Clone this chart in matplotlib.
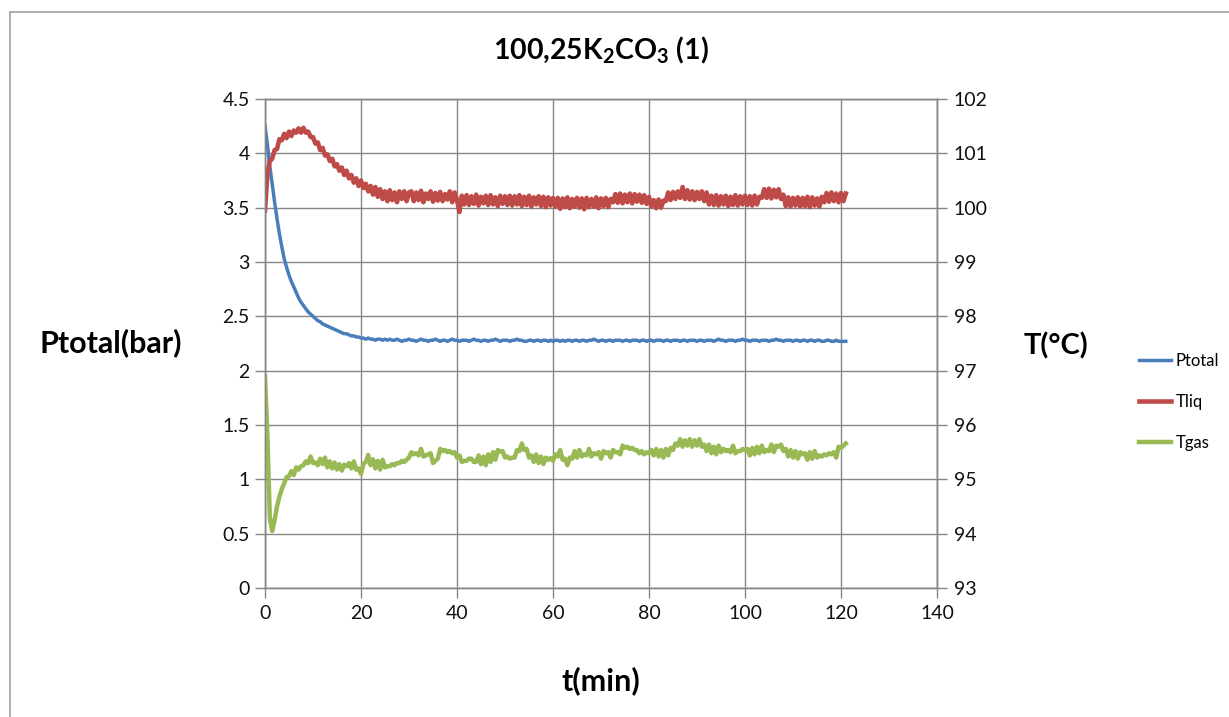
import numpy as np
import matplotlib
matplotlib.use("Agg")
import matplotlib.pyplot as plt
from matplotlib.patches import Rectangle

plt.rcParams["font.family"] = ["Lato", "DejaVu Sans"]
plt.rcParams["mathtext.fontset"] = "custom"
plt.rcParams["mathtext.rm"] = "Lato:bold"
plt.rcParams["mathtext.bf"] = "Lato:bold"
plt.rcParams["mathtext.it"] = "Lato:bold"

# sampling times (min), every 0.5 min from 0 to 121
t_min = np.arange(0, 121.01, 0.5)

# total pressure (bar)
p_total = [
    4.25, 4.08, 3.88, 3.72, 3.55, 3.40, 3.26, 3.14, 3.03, 2.95,
    2.88, 2.82, 2.77, 2.72, 2.67, 2.63, 2.60, 2.57, 2.54, 2.52,
    2.50, 2.48, 2.46, 2.45, 2.43, 2.42, 2.41, 2.40, 2.39, 2.38,
    2.37, 2.36, 2.35, 2.34, 2.34, 2.33, 2.32, 2.32, 2.31, 2.31,
    2.30,
    2.30, 2.29, 2.30, 2.29, 2.29, 2.28, 2.29, 2.29, 2.28, 2.29,
    2.28, 2.29, 2.28, 2.28, 2.29, 2.28, 2.27, 2.28, 2.28, 2.29,
    2.28, 2.28, 2.27, 2.28, 2.29, 2.28, 2.28, 2.27, 2.28, 2.28,
    2.29, 2.28, 2.27, 2.28, 2.28, 2.27, 2.28, 2.29, 2.28, 2.28,
    2.27, 2.28, 2.28, 2.28, 2.27, 2.28, 2.29, 2.28, 2.28, 2.27,
    2.28, 2.28, 2.27, 2.28, 2.28, 2.29, 2.28, 2.27, 2.28, 2.28,
    2.28, 2.27, 2.28, 2.28, 2.29, 2.28, 2.28, 2.27, 2.27, 2.28,
    2.28, 2.27, 2.28, 2.28, 2.27, 2.28, 2.28, 2.27, 2.28, 2.27,
    2.28, 2.28, 2.27, 2.28, 2.27, 2.28, 2.28, 2.27, 2.28, 2.28,
    2.27, 2.28, 2.28, 2.27, 2.28, 2.28, 2.29, 2.28, 2.27, 2.28,
    2.28, 2.27, 2.28, 2.28, 2.27, 2.28, 2.28, 2.28, 2.27, 2.28,
    2.28, 2.27, 2.28, 2.28, 2.28, 2.27, 2.28, 2.28, 2.27, 2.28,
    2.28, 2.27, 2.28, 2.28, 2.28, 2.27, 2.28, 2.28, 2.27, 2.28,
    2.28, 2.28, 2.27, 2.28, 2.28, 2.27, 2.28, 2.28, 2.28, 2.27,
    2.28, 2.28, 2.27, 2.28, 2.28, 2.28, 2.27, 2.28, 2.29, 2.28,
    2.28, 2.27, 2.28, 2.28, 2.28, 2.27, 2.28, 2.28, 2.29, 2.28,
    2.28, 2.27, 2.28, 2.28, 2.28, 2.27, 2.28, 2.28, 2.28, 2.27,
    2.28, 2.28, 2.29, 2.28, 2.28, 2.27, 2.28, 2.28, 2.28, 2.27,
    2.28, 2.28, 2.27, 2.28, 2.28, 2.27, 2.28, 2.28, 2.27, 2.28,
    2.28, 2.27, 2.27, 2.28, 2.28, 2.27, 2.27, 2.28, 2.27, 2.27,
    2.27, 2.27,
]

# liquid temperature (deg C)
t_liq = [
    99.95, 100.62, 100.86, 100.90, 101.06, 101.08, 101.26, 101.24, 101.36, 101.28,
    101.40, 101.32, 101.42, 101.38, 101.46, 101.38, 101.47, 101.38, 101.40, 101.30,
    101.30, 101.18, 101.20, 101.06, 101.10, 100.96, 100.98, 100.86, 100.90, 100.76,
    100.80, 100.68, 100.74, 100.60, 100.68, 100.54, 100.60, 100.46, 100.54, 100.40,
    100.50, 100.36, 100.44, 100.30, 100.40, 100.24, 100.38, 100.20, 100.34, 100.16,
    100.30, 100.12, 100.32, 100.14, 100.28, 100.10, 100.30, 100.16, 100.30, 100.12,
    100.28,
    100.30, 100.12, 100.28, 100.14, 100.31, 100.10, 100.26, 100.16, 100.30, 100.11,
    100.27, 100.13, 100.29, 100.12, 100.25, 100.15, 100.30, 100.10, 100.28, 100.14,
    99.92, 100.22, 100.06, 100.23, 100.05, 100.21, 100.07, 100.24, 100.04, 100.20,
    100.08, 100.22, 100.05, 100.23, 100.06, 100.19, 100.03, 100.22, 100.07, 100.21,
    100.05, 100.22, 100.04, 100.21, 100.06, 100.23, 100.03, 100.20, 100.05, 100.22,
    100.02, 100.19, 100.06, 100.21, 100.03, 100.20, 100.01, 100.19, 100.04, 100.18,
    100.02, 100.18, 99.98, 100.17, 100.01, 100.19, 99.99, 100.16, 100.02, 100.18,
    100.00, 100.17, 99.97, 100.18, 100.01, 100.16, 100.02, 100.19, 99.99, 100.17,
    100.03, 100.18, 100.01, 100.16, 100.10, 100.25, 100.09, 100.26, 100.08, 100.24,
    100.10, 100.26, 100.08, 100.25, 100.11, 100.24, 100.09, 100.23, 100.07, 100.20,
    100.02, 100.14, 99.99, 100.15, 100.00, 100.13, 100.12, 100.28, 100.14, 100.29,
    100.16, 100.30, 100.18, 100.38, 100.16, 100.32, 100.15, 100.30, 100.14, 100.29,
    100.16, 100.30, 100.12, 100.28, 100.06, 100.22, 100.05, 100.23, 100.04, 100.21,
    100.06, 100.22, 100.03, 100.20, 100.05, 100.23, 100.04, 100.21, 100.06, 100.22,
    100.05, 100.21, 100.04, 100.22, 100.06, 100.20, 100.18, 100.34, 100.18, 100.35,
    100.17, 100.33, 100.19, 100.34, 100.16, 100.24, 100.03, 100.19, 100.02, 100.18,
    100.04, 100.19, 100.02, 100.18, 100.03, 100.20, 100.01, 100.19, 100.04, 100.17,
    100.02, 100.20, 100.10, 100.27, 100.11, 100.28, 100.12, 100.26, 100.10, 100.27,
    100.12, 100.26,
]

# gas temperature (deg C)
t_gas = [
    96.90, 95.80, 94.30, 94.05, 94.25, 94.50, 94.68, 94.82, 94.93, 95.04,
    95.06, 95.15, 95.08, 95.22, 95.18, 95.24, 95.26, 95.33, 95.30, 95.42,
    95.30, 95.31, 95.26, 95.38, 95.28, 95.40, 95.22, 95.33, 95.20, 95.31,
    95.18, 95.28, 95.16, 95.27, 95.24, 95.30, 95.20, 95.33, 95.18, 95.20,
    95.10, 95.28, 95.32, 95.45, 95.26, 95.37, 95.20, 95.34, 95.18, 95.36,
    95.22, 95.24, 95.24, 95.28, 95.26, 95.30, 95.30, 95.34, 95.32, 95.36,
    95.40,
    95.50, 95.46, 95.48, 95.44, 95.56, 95.42, 95.44, 95.46, 95.48, 95.30,
    95.34, 95.38, 95.56, 95.52, 95.54, 95.50, 95.52, 95.48, 95.50, 95.40,
    95.44, 95.32, 95.34, 95.34, 95.38, 95.38, 95.32, 95.32, 95.44, 95.28,
    95.42, 95.26, 95.46, 95.32, 95.50, 95.36, 95.54, 95.51, 95.52, 95.40,
    95.42, 95.38, 95.40, 95.40, 95.54, 95.52, 95.66, 95.54, 95.56, 95.40,
    95.44, 95.32, 95.46, 95.30, 95.42, 95.28, 95.40, 95.36, 95.39, 95.34,
    95.46, 95.42, 95.54, 95.36, 95.38, 95.26, 95.40, 95.38, 95.52, 95.40,
    95.54, 95.42, 95.46, 95.44, 95.56, 95.42, 95.48, 95.46, 95.50, 95.38,
    95.52, 95.48, 95.50, 95.40, 95.54, 95.50, 95.50, 95.46, 95.62, 95.58,
    95.60, 95.56, 95.58, 95.54, 95.54, 95.48, 95.52, 95.46, 95.50, 95.48,
    95.54, 95.44, 95.56, 95.42, 95.54, 95.40, 95.56, 95.44, 95.58, 95.54,
    95.66, 95.62, 95.74, 95.60, 95.72, 95.62, 95.74, 95.60, 95.72, 95.62,
    95.74, 95.60, 95.64, 95.52, 95.64, 95.48, 95.60, 95.46, 95.62, 95.50,
    95.56, 95.52, 95.54, 95.50, 95.62, 95.48, 95.52, 95.52, 95.56, 95.54,
    95.56, 95.44, 95.58, 95.46, 95.60, 95.48, 95.62, 95.50, 95.54, 95.52,
    95.64, 95.50, 95.62, 95.60, 95.64, 95.52, 95.56, 95.42, 95.54, 95.40,
    95.52, 95.38, 95.50, 95.46, 95.48, 95.36, 95.50, 95.38, 95.52, 95.40,
    95.44, 95.42, 95.46, 95.44, 95.48, 95.46, 95.50, 95.40, 95.60, 95.58,
    95.62, 95.66,
]

series_names = ["Ptotal", "Tliq", "Tgas"]
x_ticks = [0, 20, 40, 60, 80, 100, 120, 140]
p_ticks = [0, 0.5, 1, 1.5, 2, 2.5, 3, 3.5, 4, 4.5]
p_tick_labels = ["0", "0.5", "1", "1.5", "2", "2.5", "3", "3.5", "4", "4.5"]
t_ticks = [93, 94, 95, 96, 97, 98, 99, 100, 101, 102]

BLUE = "#4a7ebb"
RED = "#be4b48"
GREEN = "#98b954"
GRID = "#868686"

fig = plt.figure(figsize=(12.29, 7.17), dpi=100)
fig.patch.set_facecolor("white")

# chart frame
fig.add_artist(Rectangle((10 / 1229, -0.02), 1.1, 1 - 12 / 717 + 0.02,
                         transform=fig.transFigure, fill=False,
                         edgecolor="#a0a0a0", linewidth=1.2))

ax = fig.add_axes([265 / 1229, 1 - 588 / 717, 672 / 1229, 489 / 717])
ax2 = ax.twinx()

lp, = ax.plot(t_min, p_total, color=BLUE, linewidth=2.5, label=series_names[0])
ll, = ax2.plot(t_min, t_liq, color=RED, linewidth=3.3, label=series_names[1])
lg, = ax2.plot(t_min, t_gas, color=GREEN, linewidth=3.2, label=series_names[2])

ax.set_xlim(0, 140)
ax.set_ylim(0, 4.5)
ax2.set_ylim(93, 102)
ax.set_xticks(x_ticks)
ax.set_xticklabels([str(v) for v in x_ticks])
ax.set_yticks(p_ticks)
ax.set_yticklabels(p_tick_labels)
ax2.set_yticks(t_ticks)
ax2.set_yticklabels([str(v) for v in t_ticks])

ax.grid(True, color=GRID, linewidth=1.0)
ax.set_axisbelow(True)

for a in (ax, ax2):
    for s in a.spines.values():
        s.set_color(GRID)
        s.set_linewidth(1.0)
    a.tick_params(colors=GRID, labelcolor="#111111", labelsize=14,
                  length=7, width=1.0, direction="out")
ax.tick_params(axis="y", pad=4)
ax2.tick_params(axis="y", pad=5)
ax.tick_params(axis="x", pad=5)

ax.set_ylabel("Ptotal(bar)", rotation=0, fontsize=22, fontweight="bold",
              ha="center", va="center")
ax.yaxis.set_label_coords((111 - 265) / 672, (588 - 343) / 489)
ax2.set_ylabel("T(°C)", rotation=0, fontsize=21, fontweight="bold",
               ha="center", va="center")
ax2.yaxis.set_label_coords((1056 - 265) / 672, (588 - 346) / 489)
ax.set_xlabel("t(min)", fontsize=22, fontweight="bold")
ax.xaxis.set_label_coords(0.5, (588 - 681) / 489)
ax.xaxis.label.set_va("center")

ax.text(0.5, (588 - 50) / 489, r"100,25K$_{2}$CO$_{3}$ (1)",
        transform=ax.transAxes, ha="center", va="center",
        fontsize=20.5, fontweight="bold")

fig.legend(handles=[lp, ll, lg], loc="center left",
           bbox_to_anchor=(1139 / 1229, 1 - 402 / 717),
           frameon=False, fontsize=12, handlelength=1.9,
           handletextpad=0.3, labelspacing=1.5, borderpad=0,
           borderaxespad=0)

fig.savefig("out.png", dpi=100, facecolor="white")
